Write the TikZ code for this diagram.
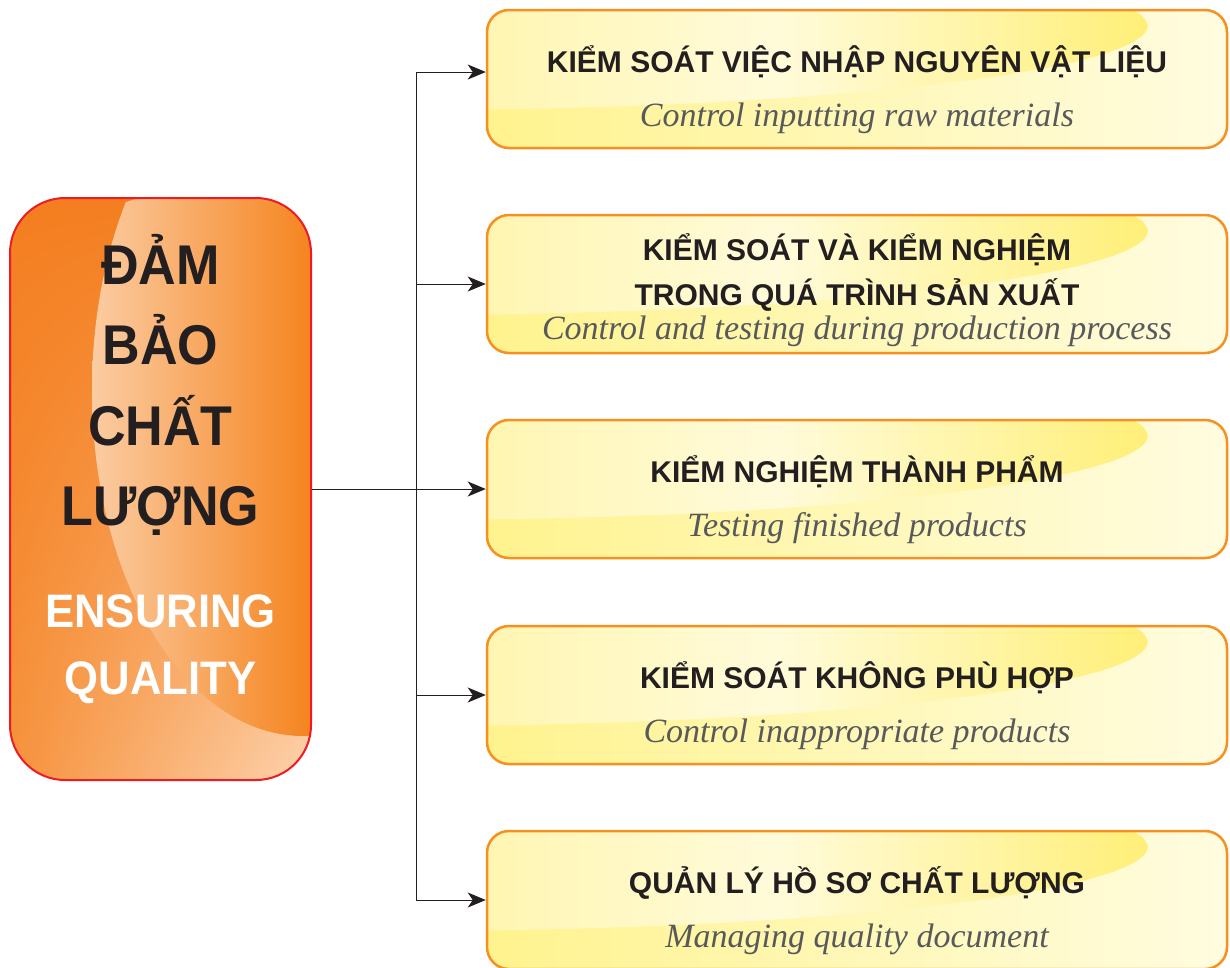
\documentclass[tikz,border=0pt]{standalone}
\usepackage{fontspec}
\setmainfont{Liberation Sans}
\newfontfamily\headfont{Liberation Sans}[FakeStretch=0.93]
\newfontfamily\subfont{Liberation Serif}
\usetikzlibrary{arrows.meta,calc,shadings}
\definecolor{ink}{HTML}{231F20}
\definecolor{subgray}{HTML}{58595B}
\definecolor{boxorange}{HTML}{F7901E}
\definecolor{mainred}{HTML}{ED1C24}
\definecolor{yStrip}{HTML}{FFF38E}
\definecolor{yCream}{HTML}{FFFCE0}
\definecolor{yLeft}{HTML}{FFF6B2}
\definecolor{yLight}{HTML}{FFFBDA}
\definecolor{yDeep}{HTML}{FFEF78}
\definecolor{oDeep}{HTML}{F47E20}
\definecolor{oMid}{HTML}{F6923C}
\definecolor{oPale}{HTML}{FDD3AE}
\definecolor{oPeach}{HTML}{FBCCA2}
\definecolor{oRight}{HTML}{F5841F}
\pgfdeclarehorizontalshading{yhilite}{100bp}{color(0bp)=(yLeft); color(25bp)=(yLeft); color(47bp)=(yLight); color(75bp)=(yDeep); color(100bp)=(yDeep)}
\tikzset{
  conn/.style={draw=ink, line width=1pt, -{Stealth[length=18pt,width=15pt,inset=5pt]}},
  sbox/.style={draw=boxorange, line width=2.5pt, rounded corners=22pt,
    minimum width=740pt, minimum height=138pt, inner sep=0pt,
    path picture={
      \coordinate (pnw) at (path picture bounding box.north west);
      \shade[left color=yStrip, right color=yCream] (pnw) rectangle ++(740pt,-138pt);
      \begin{scope}
        \clip ([shift={(-87pt,-15pt)}]pnw) ellipse [x radius=748pt, y radius=85pt];
        \shade[shading=yhilite] (pnw) rectangle ++(662pt,-138pt);
      \end{scope}
    }},
  mainbox/.style={draw=mainred, line width=2pt, rounded corners=55pt,
    minimum width=301pt, minimum height=582pt, inner sep=0pt,
    path picture={
      \coordinate (pnw) at (path picture bounding box.north west);
      \shade[upper left=oDeep, upper right=oDeep, lower left=oMid, lower right=oPale]
        (pnw) rectangle ++(301pt,-582pt);
      \begin{scope}
        \clip ([shift={(293pt,-192pt)}]pnw) ellipse [x radius=211pt, y radius=346pt];
        \shade[left color=oPeach, right color=oRight] ([xshift=82pt]pnw) rectangle ++(219pt,-582pt);
      \end{scope}
    }},
  ttl/.style={anchor=base, inner sep=0pt, text=ink, font=\bfseries\fontsize{30}{36}\selectfont},
  sub/.style={anchor=base, inner sep=0pt, text=subgray, font=\subfont\itshape\fontsize{34}{40}\selectfont},
  big/.style={anchor=base, inner sep=0pt, text=ink, font=\headfont\bfseries\fontsize{56}{60}\selectfont},
  eng/.style={anchor=base, inner sep=0pt, text=white, font=\headfont\bfseries\fontsize{47}{52}\selectfont}
}
\begin{document}
\begin{tikzpicture}[x=1pt,y=1pt]
\useasboundingbox (0,0) rectangle (1230,-967);
\clip (0,0) rectangle (1230,-967);
% main box
\node[mainbox] (main) at (160.5,-489) {};
\node[big] (m1) at (160.5,-284) {ĐẢM};
\node[big] (m2) at (160.5,-364.5) {BẢO};
\node[big] (m3) at (160.5,-445) {CHẤT};
\node[big] (m4) at (160.5,-525.5) {LƯỢNG};
\node[eng] (e1) at (160.5,-627) {ENSURING};
\node[eng] (e2) at (160.5,-694) {QUALITY};
% right boxes
\node[sbox] (b1) at (857,-79) {};
\node[sbox] (b2) at (857,-284) {};
\node[sbox] (b3) at (857,-489) {};
\node[sbox] (b4) at (857,-695) {};
\node[sbox] (b5) at (857,-900) {};
\node[ttl] (t1) at (857,-72) {KIỂM SOÁT VIỆC NHẬP NGUYÊN VẬT LIỆU};
\node[sub] (s1) at (857,-126) {Control inputting raw materials};
\node[ttl] (t2a) at (857,-260) {KIỂM SOÁT VÀ KIỂM NGHIỆM};
\node[ttl] (t2b) at (857,-305) {TRONG QUÁ TRÌNH SẢN XUẤT};
\node[sub] (s2) at (857,-339) {Control and testing during production process};
\node[ttl] (t3) at (857,-482) {KIỂM NGHIỆM THÀNH PHẨM};
\node[sub] (s3) at (857,-536) {Testing finished products};
\node[ttl] (t4) at (857,-688) {KIỂM SOÁT KHÔNG PHÙ HỢP};
\node[sub] (s4) at (857,-742) {Control inappropriate products};
\node[ttl] (t5) at (857,-893) {QUẢN LÝ HỒ SƠ CHẤT LƯỢNG};
\node[sub] (s5) at (857,-947) {Managing quality document};
% connectors
\coordinate (jn) at (416,-489);
\draw[conn] (main.east) -- (b3.west);
\draw[conn] (jn) |- ([yshift=7pt]b1.west);
\draw[conn] (jn) |- (b2.west);
\draw[conn] (jn) |- (b4.west);
\draw[conn] (jn) |- (b5.west);
\end{tikzpicture}
\end{document}
